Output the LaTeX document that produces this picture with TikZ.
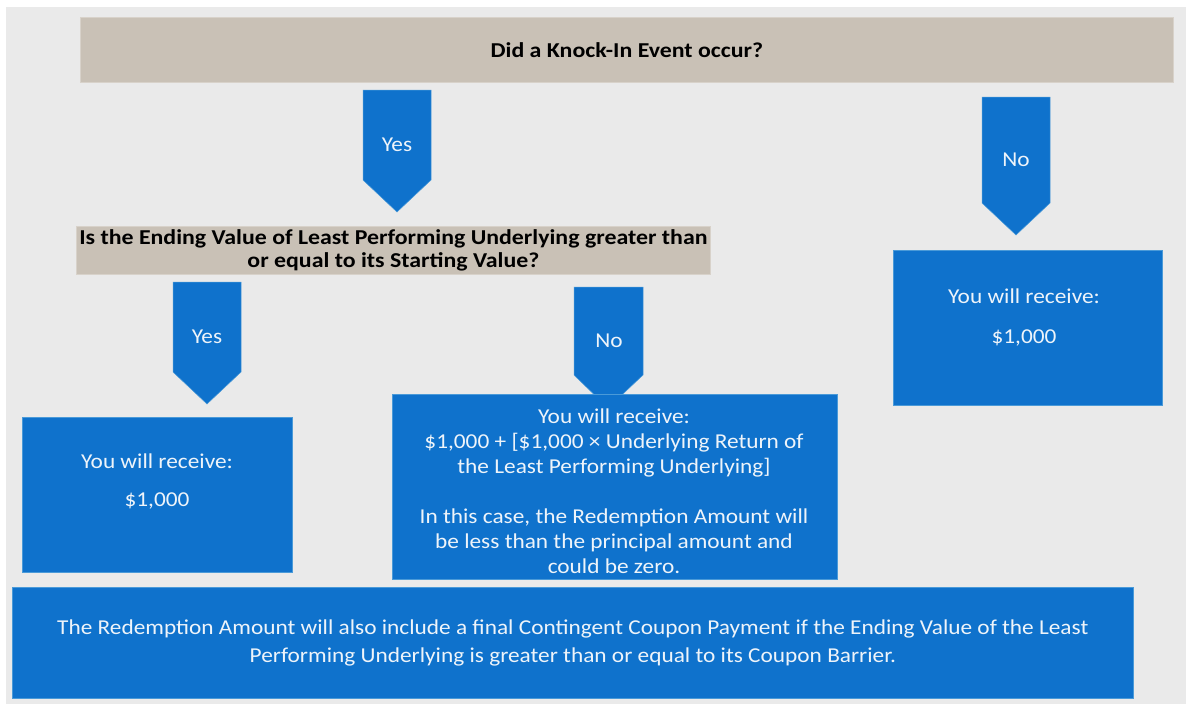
\documentclass[tikz,border=0pt]{standalone}
\usepackage{fontspec}
\setmainfont{Carlito}[FakeStretch=1.10]
\newfontfamily\qfont{Carlito}[FakeStretch=1.125]
\definecolor{bgc}{HTML}{EAEAEA}
\definecolor{tanc}{HTML}{C9C1B6}
\definecolor{tanedge}{HTML}{D8D2CA}
\definecolor{bluc}{HTML}{0F72CC}
\definecolor{blueedge}{HTML}{4A9AD8}
\definecolor{txtc}{HTML}{EEF4FA}
\begin{document}
\begin{tikzpicture}[x=1pt,y=-1pt,
  tanbox/.style={fill=tanc, draw=tanedge, line width=0.8pt, inner sep=0pt, anchor=north west},
  bluebox/.style={fill=bluc, draw=blueedge, line width=0.8pt, inner sep=0pt, anchor=north west},
  chevron/.style={fill=bluc, draw=blueedge, line width=0.5pt},
  qtext/.style={font=\qfont\fontsize{21.2}{23}\selectfont\bfseries, text=black, align=center},
  btext/.style={font=\fontsize{21.2}{25}\selectfont, text=txtc, align=center},
]
\useasboundingbox (0,0) rectangle (1186,704);
\fill[white] (0,0) rectangle (1186,704);
\fill[bgc] (6,7) rectangle (1186,704);

% question boxes
\node[tanbox, minimum width=1093pt, minimum height=65pt] (q1) at (80,17) {};
\node[qtext] (q1t) at (q1.center) {Did a Knock-In Event occur?};
\node[tanbox, minimum width=634pt, minimum height=48pt] (q2) at (76,226) {};
\node[qtext] (q2t) at (q2.center) {Is the Ending Value of Least Performing Underlying greater than\\or equal to its Starting Value?};

% chevron arrows
\draw[chevron] (363,90) -- (431,90) -- (431,180) -- (397,212) -- (363,180) -- cycle;
\node[btext] (yes1) at (397,145) {Yes};
\draw[chevron] (982,97) -- (1050,97) -- (1050,203) -- (1016,235) -- (982,203) -- cycle;
\node[btext] (no1) at (1016,160) {No};
\draw[chevron] (173,282) -- (241,282) -- (241,372) -- (207,404) -- (173,372) -- cycle;
\node[btext] (yes2) at (207,337) {Yes};
\draw[chevron] (574,287) -- (643,287) -- (643,375) -- (608,408) -- (574,375) -- cycle;
\node[btext] (no2) at (609,341) {No};

% outcome boxes
\node[bluebox, minimum width=270pt, minimum height=155pt] (left) at (22,417) {};
\node[btext] (leftt) at (157,481) {You will receive:\\[13pt]\$1,000};
\node[bluebox, minimum width=269pt, minimum height=155pt] (right) at (893,250) {};
\node[btext] (rightt) at (1024,317) {You will receive:\\[15pt]\$1,000};
\node[bluebox, minimum width=445pt, minimum height=185pt] (mid) at (392,394) {};
\node[btext] (midt) at (614,491) {You will receive:\\\$1,000 + [\$1,000 × Underlying Return of\\the Least Performing Underlying]\\[25pt]In this case, the Redemption Amount will\\be less than the principal amount and\\could be zero.};
\node[bluebox, minimum width=1121pt, minimum height=111pt] (bottom) at (12,587) {};
\node[btext, font=\fontsize{21.2}{28}\selectfont] (bottomt) at (bottom.center) {The Redemption Amount will also include a final Contingent Coupon Payment if the Ending Value of the Least\\Performing Underlying is greater than or equal to its Coupon Barrier.};
\end{tikzpicture}
\end{document}
